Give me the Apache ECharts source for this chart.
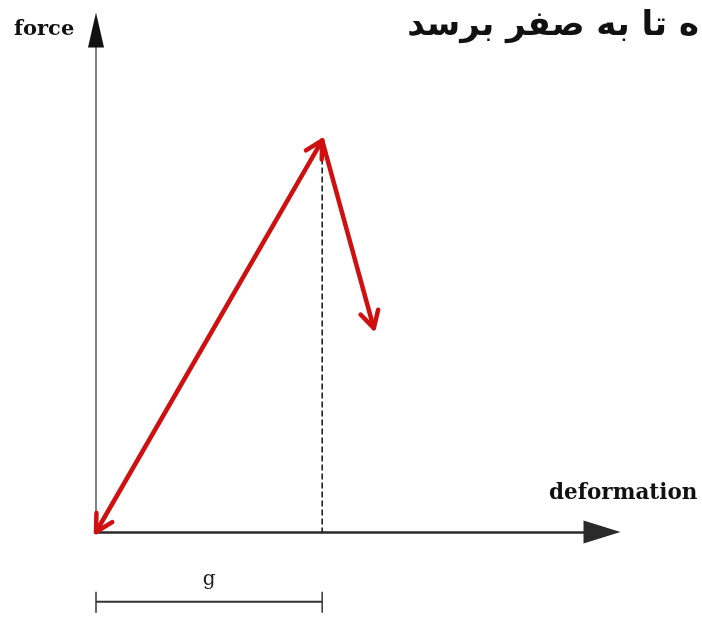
<!DOCTYPE html>
<html>
<head>
<meta charset="utf-8">
<script src="https://cdn.jsdelivr.net/npm/echarts@6/dist/echarts.min.js"></script>
<style>
  html, body { margin: 0; padding: 0; background: #fff; }
  #chart { width: 702px; height: 627px; }
</style>
</head>
<body>
<div id="chart"></div>
<script>
// Bilinear force–deformation law: loading branch up to the peak, then softening
const origin = [0, 0];
const peak = [4.47, 7.8];          // [g, peak force]
const softeningEnd = [5.49, 4.06];
const dimensionLevel = -1.39;      // force level where the g dimension is drawn
const axisTop = [0, 10];           // end of the force axis, carries its arrowhead
const axisNames = ['deformation', 'force'];
const gLabel = 'g';
const headline = 'ه تا به صفر برسد';

// [x1, y1, x2, y2, arrow at start, arrow at end]
const branches = [
  [origin[0], origin[1], peak[0], peak[1], 1, 1],
  [peak[0], peak[1], softeningEnd[0], softeningEnd[1], 0, 1]
];

const chart = echarts.init(document.getElementById('chart'));

function chevron(tip, from, len, half) {
  const ang = Math.atan2(from[1] - tip[1], from[0] - tip[0]);
  return [
    [tip[0] + len * Math.cos(ang + half), tip[1] + len * Math.sin(ang + half)],
    tip,
    [tip[0] + len * Math.cos(ang - half), tip[1] + len * Math.sin(ang - half)]
  ];
}

const red = '#cf1010';

chart.setOption({
  backgroundColor: '#fff',
  animation: false,
  grid: { left: 96, right: 100, top: 30, bottom: 95 },
  xAxis: {
    type: 'value', min: 0, max: 10,
    axisLine: {
      show: true, onZero: false,
      lineStyle: { color: '#2a2a2a', width: 2.5 },
      symbol: ['none', 'triangle'], symbolSize: [23, 37]
    },
    axisTick: { show: false }, axisLabel: { show: false }, splitLine: { show: false }
  },
  yAxis: {
    type: 'value', min: 0, max: 10,
    axisLine: {
      show: true, onZero: false,
      lineStyle: { color: '#808080', width: 2 }
    },
    axisTick: { show: false }, axisLabel: { show: false }, splitLine: { show: false }
  },
  graphic: [
    {
      type: 'text', right: 3, top: 9,
      style: { text: headline, font: 'bold 34px "DejaVu Sans"', fill: '#111' }
    },
    {
      type: 'text', left: 14, top: 19,
      style: { text: axisNames[1], font: 'bold 21px "DejaVu Serif"', fill: '#111' }
    },
    {
      type: 'text', left: 549, top: 482,
      style: { text: axisNames[0], font: 'bold 21.5px "DejaVu Serif"', fill: '#111' }
    }
  ],
  series: [
    {
      // filled arrowhead at the top of the force axis
      type: 'scatter',
      data: [axisTop],
      symbol: 'triangle',
      symbolSize: [16, 35],
      itemStyle: { color: '#111', opacity: 1 },
      silent: true,
      clip: false,
      z: 4
    },
    {
      // vertical guide from the peak down to the deformation axis
      type: 'line',
      data: [[peak[0], peak[1]], [peak[0], 0]],
      symbol: 'none',
      lineStyle: { color: '#111', width: 1.5, type: [6, 3] },
      z: 2
    },
    {
      // g dimension below the axis
      type: 'custom',
      clip: false,
      data: [[0, peak[0], dimensionLevel]],
      renderItem: function (params, api) {
        const a = api.coord([api.value(0), api.value(2)]);
        const b = api.coord([api.value(1), api.value(2)]);
        const c = '#333';
        return {
          type: 'group',
          children: [
            { type: 'line', shape: { x1: a[0], y1: a[1], x2: b[0], y2: b[1] }, style: { stroke: c, lineWidth: 2 } },
            { type: 'line', shape: { x1: a[0], y1: a[1] - 10, x2: a[0], y2: a[1] + 11 }, style: { stroke: c, lineWidth: 1.5 } },
            { type: 'line', shape: { x1: b[0], y1: b[1] - 10, x2: b[0], y2: b[1] + 11 }, style: { stroke: c, lineWidth: 1.5 } },
            {
              type: 'text', x: (a[0] + b[0]) / 2, y: a[1] - 12,
              style: { text: gLabel, font: '20px "DejaVu Serif"', fill: '#222', align: 'center', verticalAlign: 'bottom' }
            }
          ]
        };
      },
      z: 3
    },
    {
      // loading and softening branches with open arrowheads
      type: 'custom',
      clip: false,
      data: branches,
      encode: { x: [0, 2], y: [1, 3] },
      renderItem: function (params, api) {
        const p1 = api.coord([api.value(0), api.value(1)]);
        const p2 = api.coord([api.value(2), api.value(3)]);
        const style = { stroke: red, lineWidth: 4.5, lineCap: 'round', lineJoin: 'round', fill: null };
        const kids = [
          { type: 'line', shape: { x1: p1[0], y1: p1[1], x2: p2[0], y2: p2[1] }, style: style }
        ];
        if (api.value(4)) kids.push({ type: 'polyline', shape: { points: chevron(p1, p2, 19, 0.5) }, style: style });
        if (api.value(5)) kids.push({ type: 'polyline', shape: { points: chevron(p2, p1, 19, 0.5) }, style: style });
        return { type: 'group', children: kids };
      },
      z: 5
    }
  ]
});
</script>
</body>
</html>
